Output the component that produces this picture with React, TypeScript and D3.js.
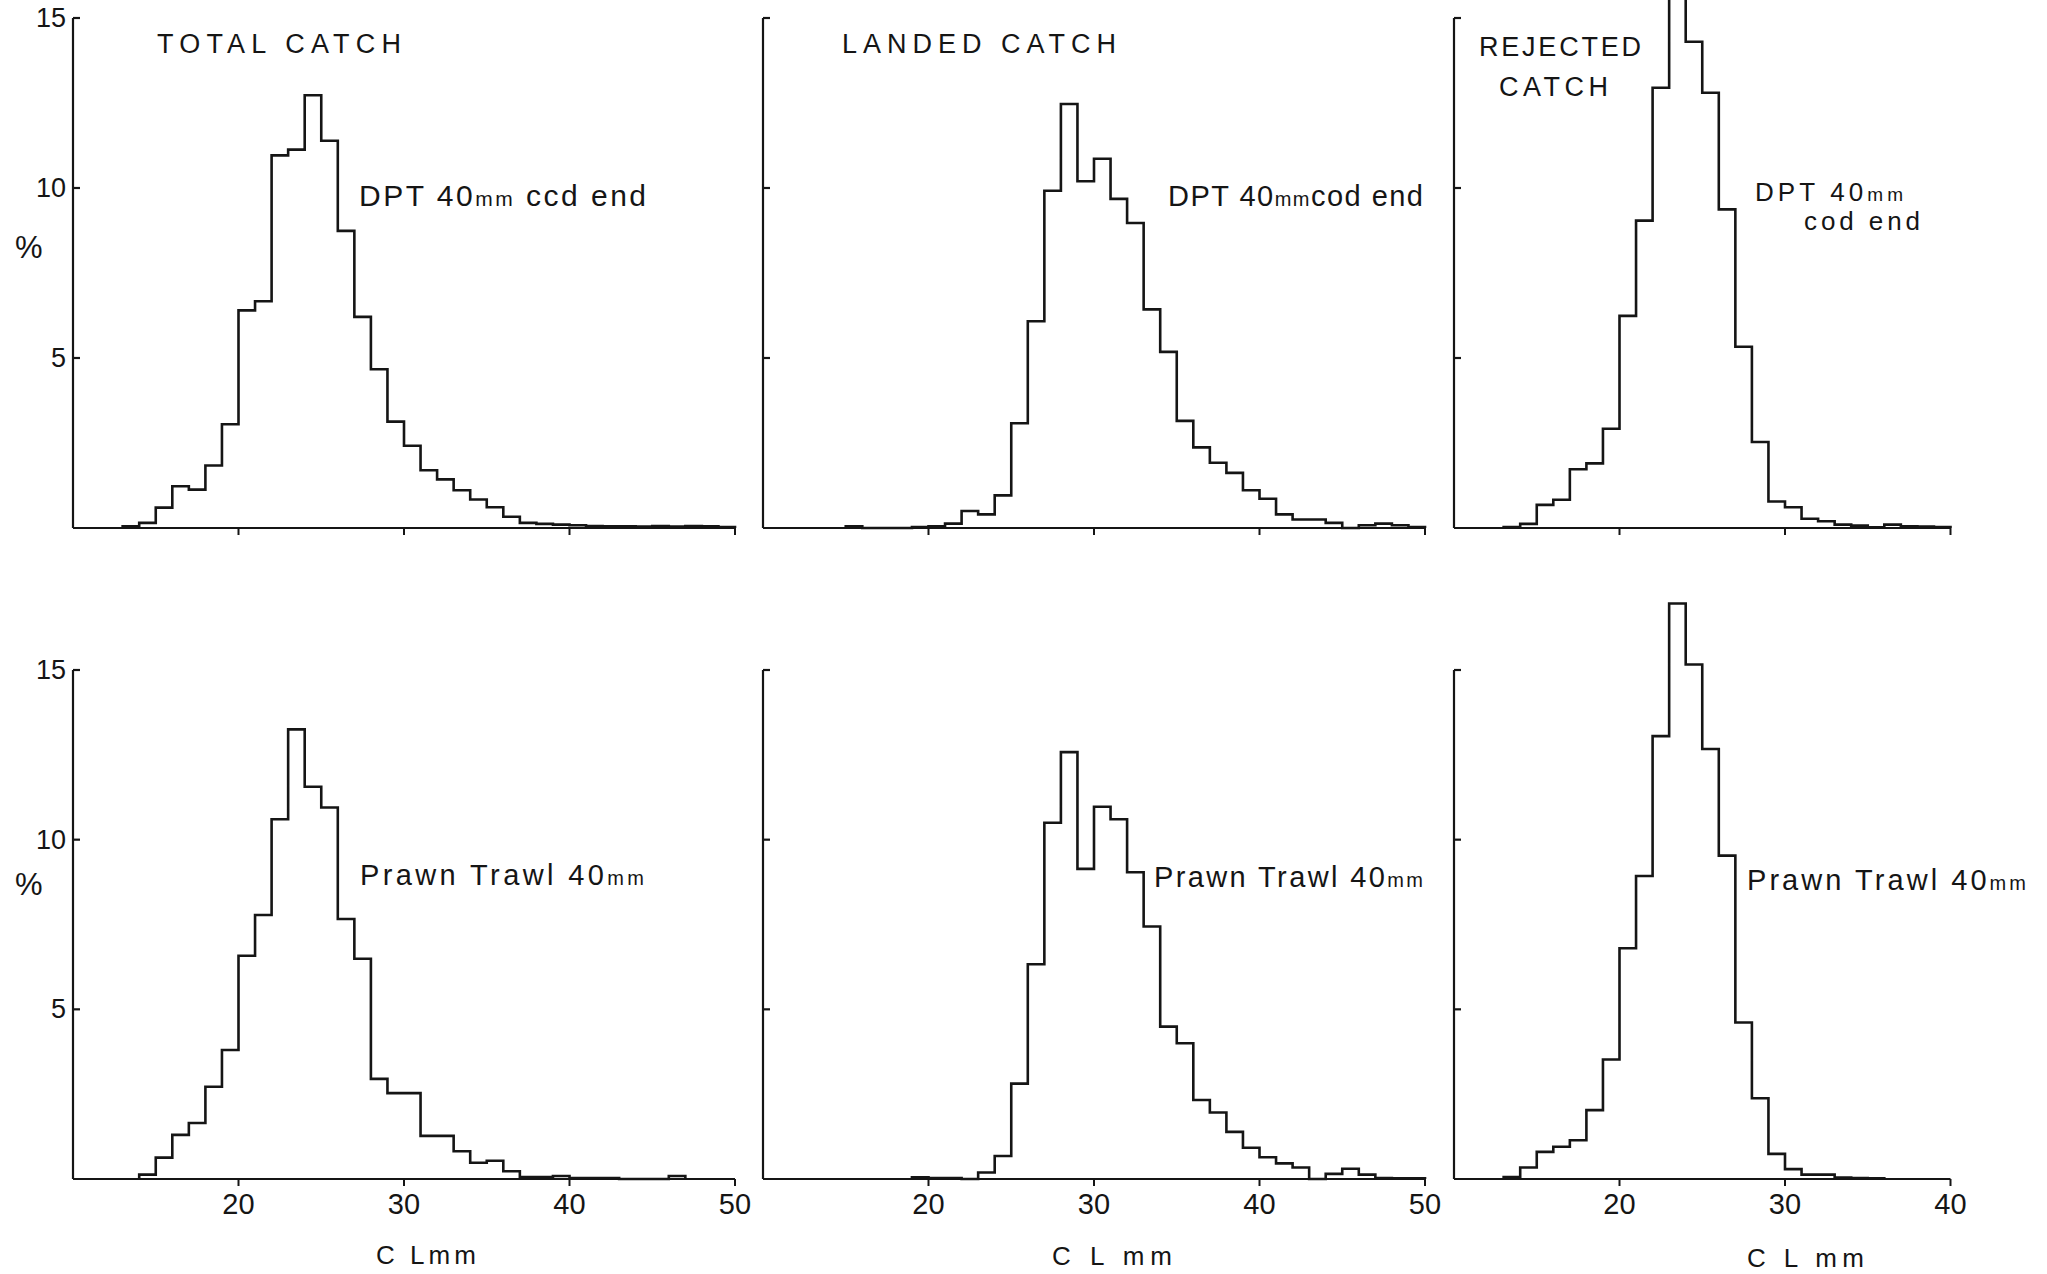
import React from 'react';
import * as d3 from 'd3';

// ---- data (percent frequency per 1 mm carapace-length class) ----
const totalDPTStart = 13;
const totalDPT = [0.05, 0.15, 0.6, 1.23, 1.13, 1.84, 3.05, 6.4, 6.67, 10.96, 11.13, 12.73, 11.39, 8.74, 6.21, 4.67, 3.13, 2.42, 1.7, 1.43, 1.11, 0.84, 0.61, 0.33, 0.15, 0.12, 0.1, 0.08, 0.06, 0.05, 0.05, 0.04, 0.06, 0.04, 0.06, 0.05, 0.03];

const landedDPTStart = 15;
const landedDPT = [0.05, 0, 0, 0, 0.03, 0.05, 0.13, 0.5, 0.4, 0.96, 3.08, 6.08, 9.92, 12.47, 10.2, 10.86, 9.68, 8.97, 6.43, 5.18, 3.15, 2.37, 1.92, 1.62, 1.11, 0.86, 0.4, 0.25, 0.25, 0.15, 0, 0.08, 0.13, 0.08, 0.03];

const rejectedDPTStart = 13;
const rejectedDPT = [0.03, 0.12, 0.68, 0.83, 1.73, 1.9, 2.92, 6.24, 9.04, 12.95, 17.5, 14.3, 12.8, 9.37, 5.33, 2.53, 0.78, 0.61, 0.27, 0.2, 0.1, 0.07, 0.02, 0.1, 0.05, 0.04, 0.03];

const totalPrawnStart = 14;
const totalPrawn = [0.13, 0.63, 1.3, 1.65, 2.72, 3.8, 6.58, 7.78, 10.6, 13.25, 11.56, 10.95, 7.66, 6.49, 2.95, 2.53, 2.53, 1.27, 1.27, 0.82, 0.48, 0.54, 0.23, 0.06, 0.06, 0.09, 0.03, 0.03, 0.03, 0, 0, 0, 0.09];

const landedPrawnStart = 19;
const landedPrawn = [0.05, 0.03, 0.03, 0, 0.19, 0.68, 2.81, 6.33, 10.5, 12.58, 9.14, 10.97, 10.6, 9.04, 7.44, 4.49, 4.0, 2.33, 1.96, 1.39, 0.92, 0.64, 0.46, 0.34, 0, 0.15, 0.3, 0.13, 0.03, 0.02, 0.02];

const rejectedPrawnStart = 13;
const rejectedPrawn = [0.06, 0.34, 0.8, 0.95, 1.14, 2.03, 3.52, 6.8, 8.93, 13.05, 16.96, 15.16, 12.67, 9.53, 4.61, 2.38, 0.74, 0.29, 0.13, 0.13, 0.04, 0.03, 0.02];

const yTicks = [5, 10, 15];
const xTicksWide = [20, 30, 40, 50];
const xTicksNarrow = [20, 30, 40];

const FONT = '"Liberation Sans", Arial, Helvetica, sans-serif';
const INK = '#151515';
const MM = 16.55;

function stepPoints(start: number, values: number[]): [number, number][] {
  const pts: [number, number][] = [[start, 0]];
  values.forEach((v, i) => {
    pts.push([start + i, v]);
    pts.push([start + i + 1, v]);
  });
  pts.push([start + values.length, 0]);
  return pts;
}

type PanelProps = {
  x0: number;
  xMax: number;
  base: number;
  top: number;
  start: number;
  values: number[];
  xTicks: number[];
  yLabels: boolean;
  xLabels: boolean;
};

function Panel({ x0, xMax, base, top, start, values, xTicks, yLabels, xLabels }: PanelProps) {
  const x = d3.scaleLinear().domain([10, xMax]).range([x0, x0 + (xMax - 10) * MM]);
  const y = d3.scaleLinear().domain([0, 15]).range([base, top]);
  const line = d3.line<[number, number]>().x(d => x(d[0])).y(d => y(d[1]));
  const pts = stepPoints(start, values);
  return (
    <g>
      <path d={`M${x0},${y(0)}V${y(15)}`} stroke={INK} strokeWidth={2.2} fill="none" />
      {yTicks.map(t => (
        <path key={t} d={`M${x0},${y(t)}H${x0 + 7}`} stroke={INK} strokeWidth={2.2} />
      ))}
      {yLabels && yTicks.map(t => (
        <text key={'l' + t} x={66} y={y(t) + 9} textAnchor="end" fontSize={27} fontFamily={FONT} fill={INK}>{t}</text>
      ))}
      <path d={`M${x0},${y(0)}H${x(xMax)}`} stroke={INK} strokeWidth={2.2} fill="none" />
      {xTicks.map(t => (
        <path key={'t' + t} d={`M${x(t)},${y(0)}V${y(0) + 7}`} stroke={INK} strokeWidth={2} />
      ))}
      {xLabels && xTicks.map(t => (
        <text key={'x' + t} x={x(t)} y={y(0) + 35} textAnchor="middle" fontSize={29} fontFamily={FONT} fill={INK}>{t}</text>
      ))}
      <path d={line(pts) || ''} stroke={INK} strokeWidth={2.6} fill="none" strokeLinejoin="miter" />
    </g>
  );
}

export default function App() {
  const topBase = 528, topTop = 18;
  const botBase = 1179, botTop = 670;
  const px = [73, 763, 1454];
  const T = { fontFamily: FONT, fill: INK } as const;
  const SP = 'spacing';
  return (
    <div style={{ position: 'absolute', left: 0, top: 0, width: 2047, height: 1274, overflow: 'hidden', background: '#fff' }}>
      <svg width={2047} height={1274} style={{ display: 'block' }}>
        <rect x={0} y={0} width={2047} height={1274} fill="#fff" />
        <Panel x0={px[0]} xMax={50} base={topBase} top={topTop} start={totalDPTStart} values={totalDPT} xTicks={xTicksWide} yLabels={true} xLabels={false} />
        <Panel x0={px[1]} xMax={50} base={topBase} top={topTop} start={landedDPTStart} values={landedDPT} xTicks={xTicksWide} yLabels={false} xLabels={false} />
        <Panel x0={px[2]} xMax={40} base={topBase} top={topTop} start={rejectedDPTStart} values={rejectedDPT} xTicks={xTicksNarrow} yLabels={false} xLabels={false} />
        <Panel x0={px[0]} xMax={50} base={botBase} top={botTop} start={totalPrawnStart} values={totalPrawn} xTicks={xTicksWide} yLabels={true} xLabels={true} />
        <Panel x0={px[1]} xMax={50} base={botBase} top={botTop} start={landedPrawnStart} values={landedPrawn} xTicks={xTicksWide} yLabels={false} xLabels={true} />
        <Panel x0={px[2]} xMax={40} base={botBase} top={botTop} start={rejectedPrawnStart} values={rejectedPrawn} xTicks={xTicksNarrow} yLabels={false} xLabels={true} />

        <text x={15} y={258} fontSize={31} {...T}>%</text>
        <text x={15} y={895} fontSize={31} {...T}>%</text>

        <text x={157} y={53} fontSize={27} textLength={244} lengthAdjust={SP} {...T}>TOTAL CATCH</text>
        <text x={842} y={53} fontSize={27} textLength={274} lengthAdjust={SP} {...T}>LANDED  CATCH</text>
        <text x={1479} y={56} fontSize={27} textLength={162} lengthAdjust={SP} {...T}>REJECTED</text>
        <text x={1499} y={96} fontSize={27} textLength={109} lengthAdjust={SP} {...T}>CATCH</text>

        <text x={359} y={206} fontSize={30} textLength={287} lengthAdjust={SP} {...T}>DPT 40<tspan fontSize={21}>mm</tspan>  ccd end</text>
        <text x={1168} y={206} fontSize={29} textLength={255} lengthAdjust={SP} {...T}>DPT  40<tspan fontSize={20}>mm</tspan>cod end</text>
        <text x={1755} y={201} fontSize={26} textLength={148} lengthAdjust={SP} {...T}>DPT 40<tspan fontSize={19}>mm</tspan></text>
        <text x={1804} y={230} fontSize={26} textLength={116} lengthAdjust={SP} {...T}>cod end</text>

        <text x={360} y={885} fontSize={29} textLength={284} lengthAdjust={SP} {...T}>Prawn  Trawl  40<tspan fontSize={20}>mm</tspan></text>
        <text x={1154} y={887} fontSize={29} textLength={269} lengthAdjust={SP} {...T}>Prawn  Trawl  40<tspan fontSize={20}>mm</tspan></text>
        <text x={1747} y={890} fontSize={29} textLength={279} lengthAdjust={SP} {...T}>Prawn  Trawl  40<tspan fontSize={20}>mm</tspan></text>

        <text x={376} y={1264} fontSize={26} textLength={100} lengthAdjust={SP} {...T}>C Lmm</text>
        <text x={1052} y={1265} fontSize={26} textLength={120} lengthAdjust={SP} {...T}>C L  mm</text>
        <text x={1747} y={1267} fontSize={26} textLength={117} lengthAdjust={SP} {...T}>C L  mm</text>
      </svg>
    </div>
  );
}
